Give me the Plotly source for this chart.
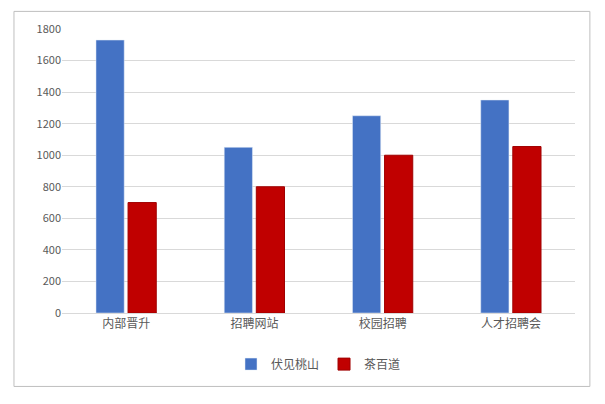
import plotly.graph_objects as go

categories = ["内部晋升", "招聘网站", "校园招聘", "人才招聘会"]
fushimi = [1730, 1050, 1250, 1350]
chabaidao = [700, 800, 1000, 1055]

font = "Noto Sans CJK SC"

fig = go.Figure()
fig.add_trace(go.Bar(x=categories, y=fushimi, name="伏见桃山", marker_color="#4472C4"))
fig.add_trace(go.Bar(x=categories, y=chabaidao, name="茶百道",
                     marker=dict(color="#C00000", line=dict(color="#A00000", width=1))))

# page has an 8px body margin, so the figure is a bit smaller than the window
fig.update_layout(
    width=589, height=388,
    margin=dict(l=54, r=22, t=15, b=83),
    paper_bgcolor="white", plot_bgcolor="white",
    barmode="group", bargap=0.5, bargroupgap=0.12,
    font=dict(family=font, size=12, color="#595959"),
    showlegend=True,
    legend=dict(orientation="h", x=0.5, xanchor="center", y=-0.18, yanchor="middle",
                bgcolor="rgba(0,0,0,0)", font=dict(size=12, color="#595959")),
    yaxis=dict(range=[0, 1800], dtick=200, showgrid=True, gridcolor="#D9D9D9",
               zeroline=False, tickfont=dict(size=11)),
    xaxis=dict(showline=True, linecolor="#D9D9D9", tickfont=dict(size=12)),
    shapes=[dict(type="rect", xref="paper", yref="paper",
                 x0=-0.0936, x1=1.029, y0=-0.2586, y1=1.062,
                 line=dict(color="#BFBFBF", width=1))],
)

fig.write_html("out.html")
